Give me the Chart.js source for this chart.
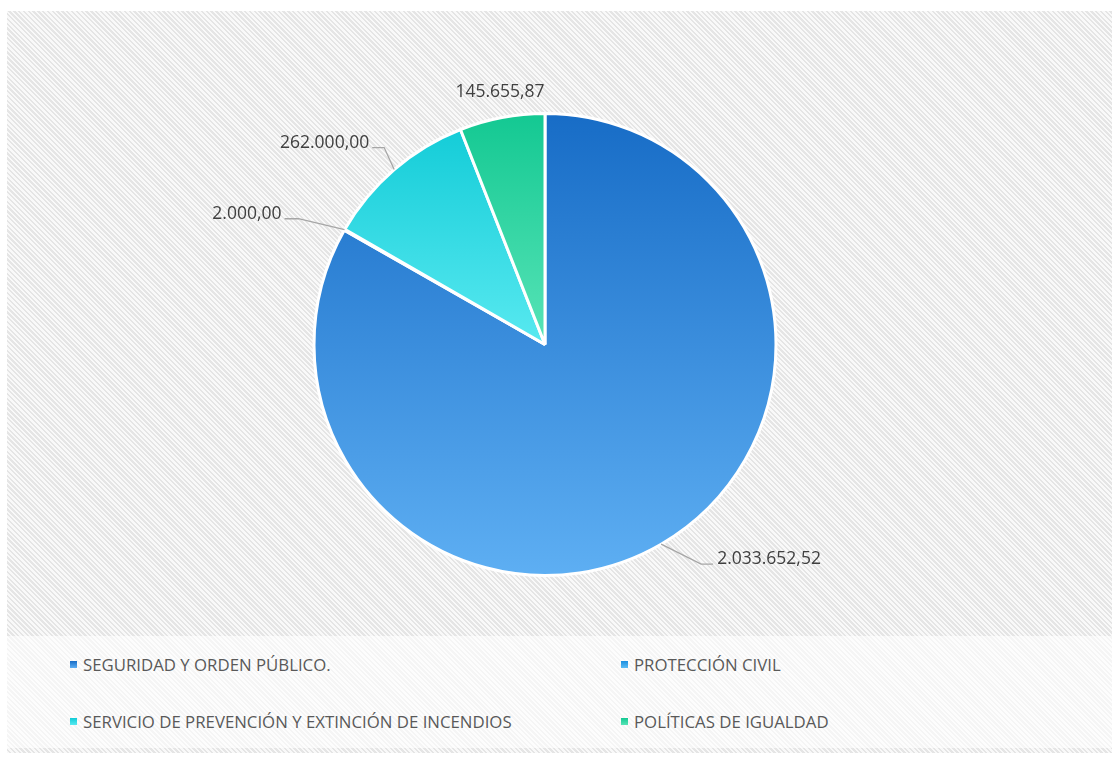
<!DOCTYPE html>
<html>
<head>
<meta charset="utf-8">
<script src="https://cdn.jsdelivr.net/npm/chart.js@4.4.1/dist/chart.umd.min.js"></script>
<style>
  html, body { margin: 0; padding: 0; background: #ffffff; }
  body { width: 1116px; height: 762px; position: relative; overflow: hidden; font-family: "Open Sans", sans-serif; }
  #frame {
    position: absolute; left: 7px; top: 11px; width: 1105px; height: 742px;
    background: repeating-linear-gradient(45deg, #f9f9f9 0px, #f9f9f9 1.7px, #e5e5e5 1.7px, #e5e5e5 3.4px);
  }
  #plot { position: absolute; left: 0; top: 0; width: 1105px; height: 625px; }
  #band {
    position: absolute; left: 0; top: 625px; width: 1105px; height: 112px;
    background: rgba(255, 255, 255, 0.6);
  }
  #legend { position: absolute; left: 0; top: 0; width: 100%; height: 100%; }
  .item { position: absolute; display: flex; align-items: center; font-size: 16.8px; color: #595959; white-space: nowrap; }
  .box { width: 7px; height: 7px; margin-right: 6px; }
</style>
</head>
<body>
<div id="frame">
  <div id="plot"><canvas id="pieChart"></canvas></div>
  <div id="band"><div id="legend"></div></div>
</div>
<script>
// Chart data
const categories = [
    'SEGURIDAD Y ORDEN PÚBLICO.',
    'PROTECCIÓN CIVIL',
    'SERVICIO DE PREVENCIÓN Y EXTINCIÓN DE INCENDIOS',
    'POLÍTICAS DE IGUALDAD'
];
const amounts = [2033652.52, 2000.00, 262000.00, 145655.87];

// Slice colours (gradient top -> bottom) and where the gradient ends
const topColors = ['#176cc6', '#1b8fe0', '#0fcad6', '#13c892'];
const bottomColors = ['#5eaff3', '#5cbcf5', '#58e9f0', '#58e4b7'];
const gradientEnd = [1, 1, 0.5, 0.5];

// Label placement relative to the slice edge (elbow offset, horizontal tail)
const labelPlacement = [
    { dx: 40, dy: 20, tail: 12, line: true },
    { dx: -46, dy: -11, tail: -14, line: true },
    { dx: -10, dy: -22, tail: -12, line: true },
    { dx: -2, dy: -26, tail: 0, line: false }
];

// Spanish number format: 2.033.652,52
function formatEs(n) {
    const parts = n.toFixed(2).split('.');
    const intPart = parts[0].replace(/\B(?=(\d{3})+(?!\d))/g, '.');
    return intPart + ',' + parts[1];
}

function sliceGradient(context) {
    const chart = context.chart;
    const area = chart.chartArea;
    const i = context.dataIndex;
    if (!area) return topColors[i];
    const g = chart.ctx.createLinearGradient(0, area.top, 0, area.bottom);
    g.addColorStop(0, topColors[i]);
    g.addColorStop(gradientEnd[i], bottomColors[i]);
    return g;
}

// Plugin to draw the value labels with leader lines
const valueLabelPlugin = {
    id: 'valueLabels',
    afterDatasetsDraw(chart) {
        const ctx = chart.ctx;
        const meta = chart.getDatasetMeta(0);
        ctx.save();
        ctx.font = '17.5px "Open Sans", sans-serif';
        ctx.fillStyle = '#404040';
        meta.data.forEach((arc, i) => {
            const mid = (arc.startAngle + arc.endAngle) / 2;
            const ex = arc.x + Math.cos(mid) * arc.outerRadius;
            const ey = arc.y + Math.sin(mid) * arc.outerRadius;
            const p = labelPlacement[i];
            const bx = ex + p.dx;
            const by = ey + p.dy;
            const text = formatEs(amounts[i]);
            if (p.line) {
                const tx = bx + p.tail;
                ctx.strokeStyle = '#a6a6a6';
                ctx.lineWidth = 1.3;
                ctx.beginPath();
                ctx.moveTo(ex, ey);
                ctx.lineTo(bx, by);
                ctx.lineTo(tx, by);
                ctx.stroke();
                ctx.textBaseline = 'middle';
                if (p.tail > 0) {
                    ctx.textAlign = 'left';
                    ctx.fillText(text, tx + 4, by - 5);
                } else {
                    ctx.textAlign = 'right';
                    ctx.fillText(text, tx - 3, by - 5);
                }
            } else {
                ctx.textAlign = 'center';
                ctx.textBaseline = 'middle';
                ctx.fillText(text, bx, by);
            }
        });
        ctx.restore();
    }
};

const ctx = document.getElementById('pieChart').getContext('2d');
const pieChart = new Chart(ctx, {
    type: 'pie',
    data: {
        labels: categories,
        datasets: [{
            data: amounts,
            backgroundColor: sliceGradient,
            borderColor: '#ffffff',
            borderWidth: 3
        }]
    },
    options: {
        responsive: true,
        maintainAspectRatio: false,
        animation: false,
        layout: {
            padding: { left: 100, right: 129, top: 101, bottom: 59 }
        },
        plugins: {
            legend: { display: false },
            tooltip: { enabled: false }
        }
    },
    plugins: [valueLabelPlugin]
});

// Legend in two columns below the pie
const legendEl = document.getElementById('legend');
const colLeft = [63, 614];
const rowTop = [28, 85];
categories.forEach((name, i) => {
    const item = document.createElement('div');
    item.className = 'item';
    item.style.left = colLeft[i % 2] + 'px';
    item.style.top = (rowTop[Math.floor(i / 2)] - 12) + 'px';
    item.style.height = '24px';
    const box = document.createElement('span');
    box.className = 'box';
    box.style.background = 'linear-gradient(' + topColors[i] + ', ' + bottomColors[i] + ')';
    const label = document.createElement('span');
    label.textContent = name;
    item.appendChild(box);
    item.appendChild(label);
    legendEl.appendChild(item);
});
</script>
</body>
</html>
